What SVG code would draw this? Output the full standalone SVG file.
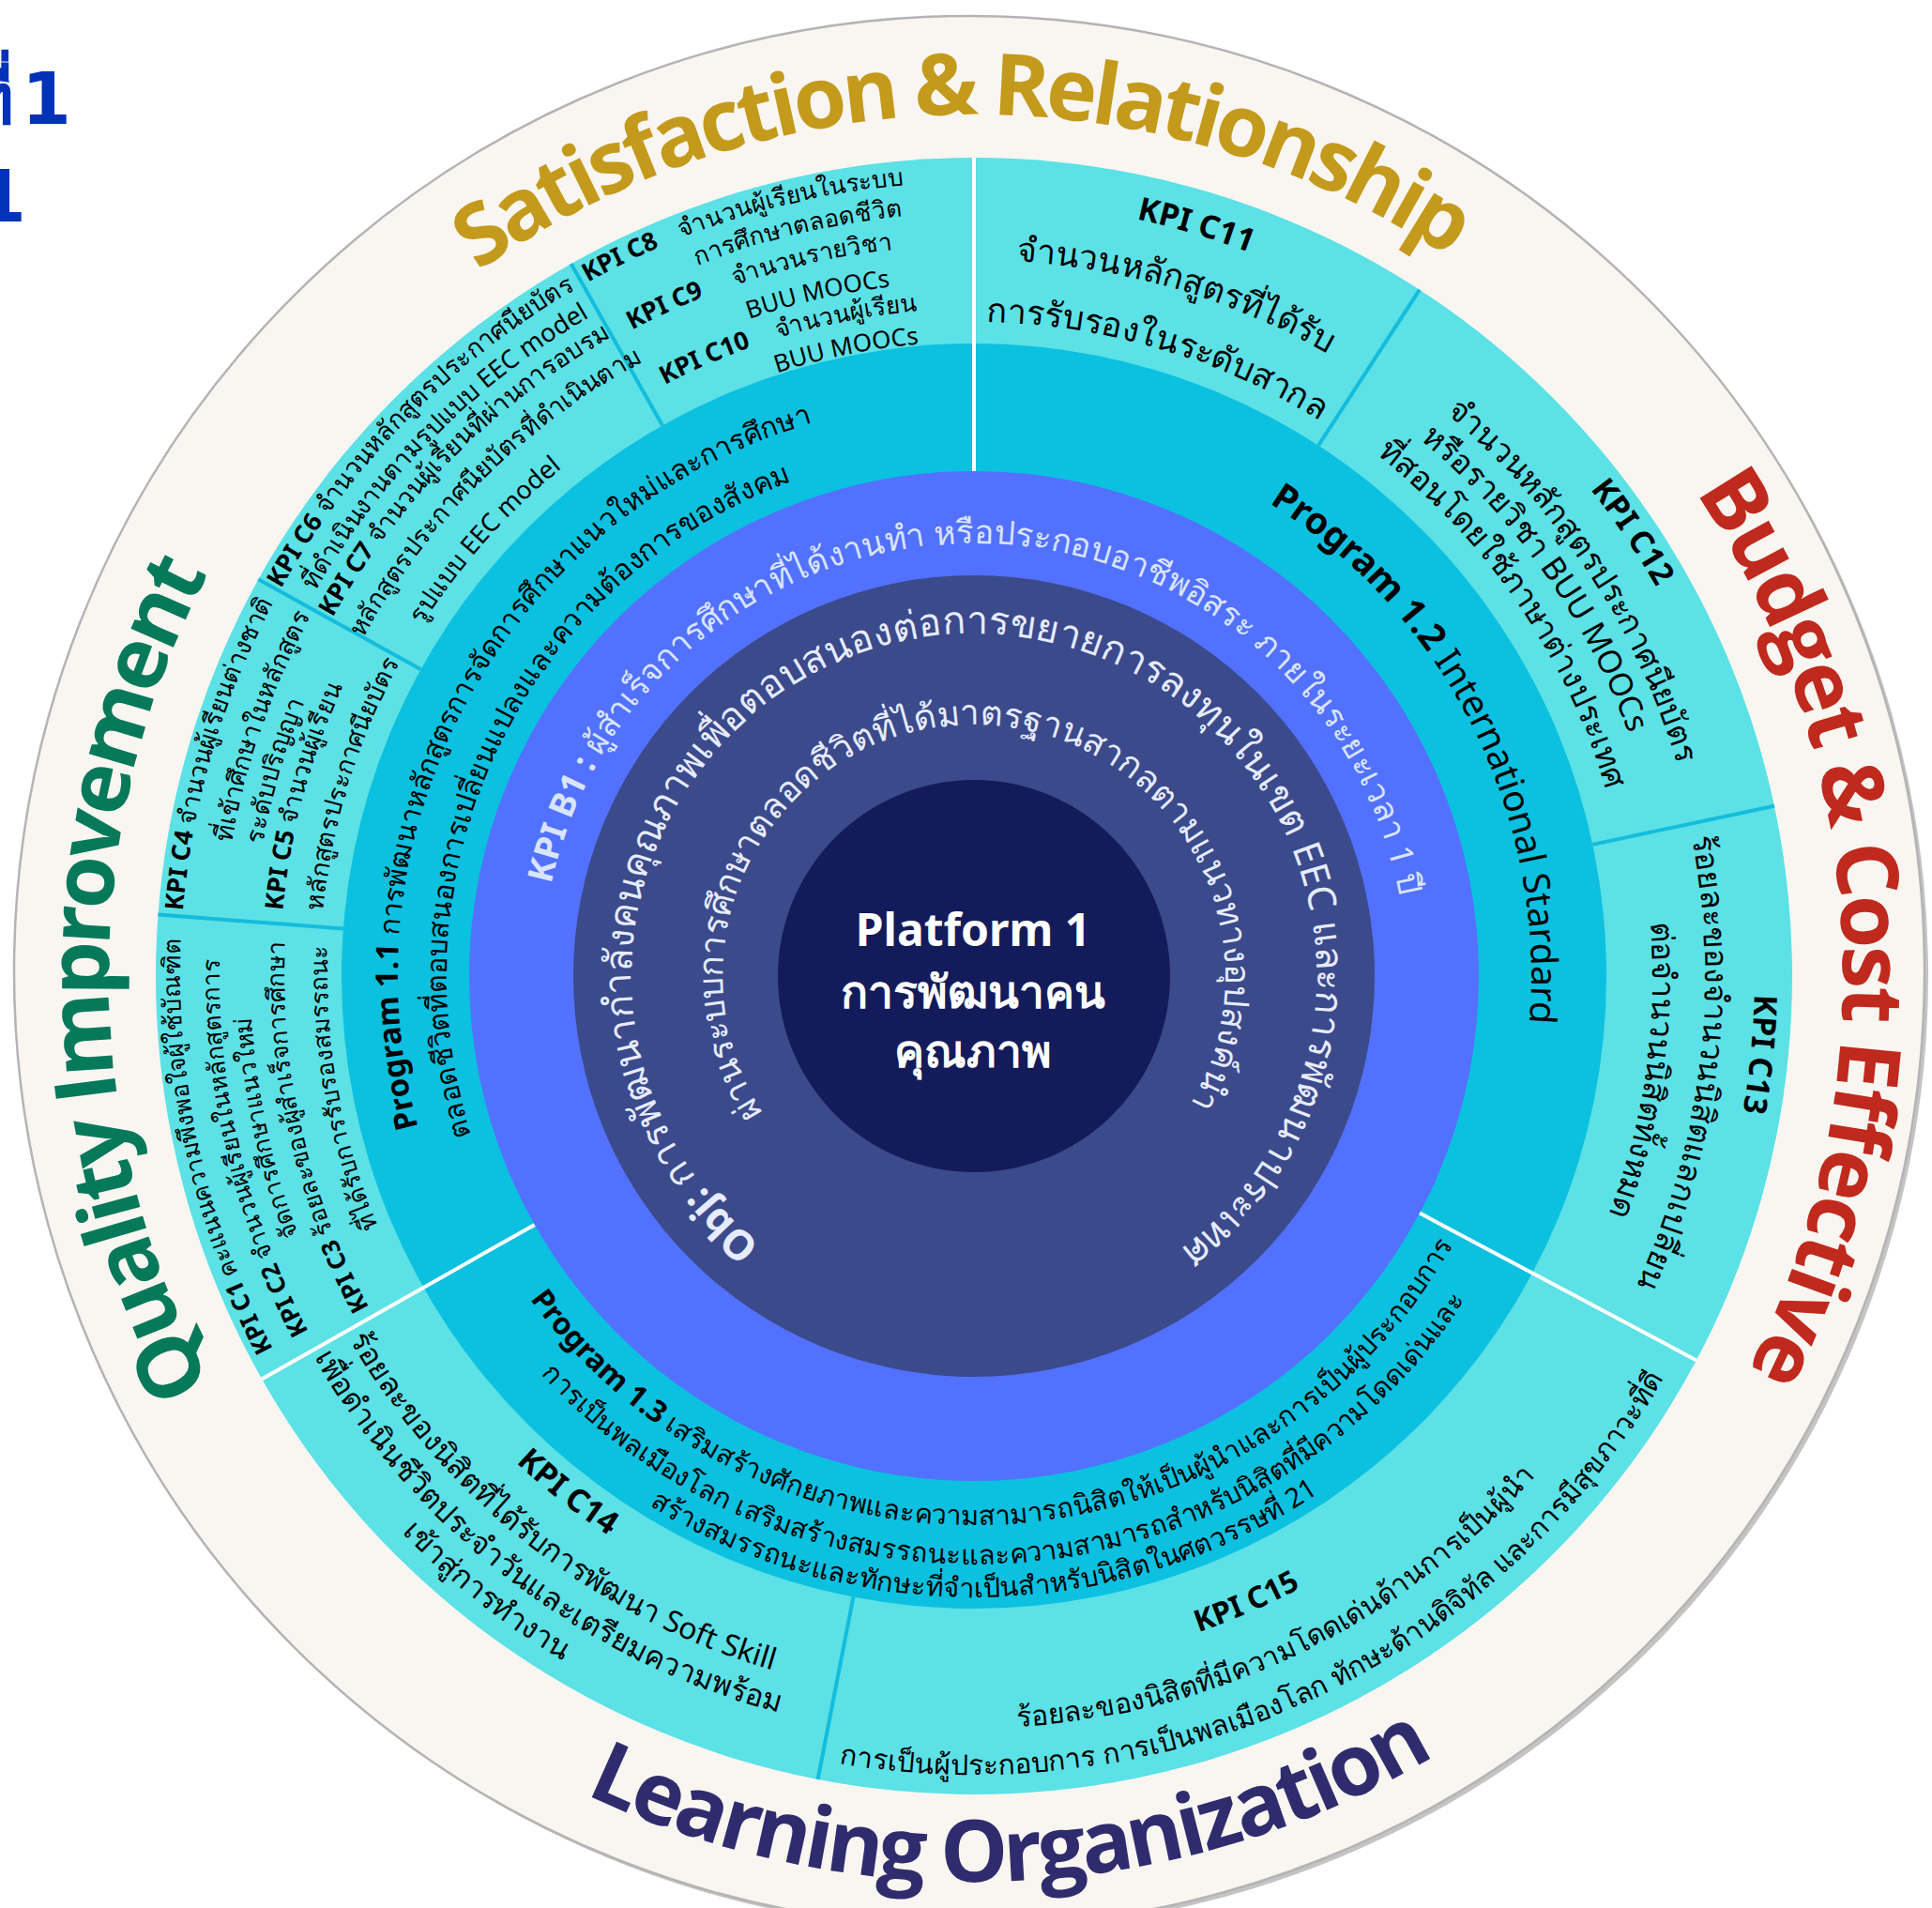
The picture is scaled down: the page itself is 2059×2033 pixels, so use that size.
<svg xmlns="http://www.w3.org/2000/svg" width="2059" height="2033" viewBox="0 0 2059 2033">
<style>
.t{font-family:"Noto Sans","Open Sans",sans-serif;}
.ol{font-family:"Open Sans","Noto Sans",sans-serif;font-weight:700;font-size:91px;}
.b{font-weight:700;}
.k{font-size:26px;fill:#000;}
.k7{font-size:27px;fill:#000;}
.k2{font-size:34px;fill:#000;}
.m{text-anchor:middle;}
.wl{stroke:#ffffff;stroke-width:4;}
.cl{stroke:#14bcdc;stroke-width:4;}
.ttl{font-family:"DejaVu Sans",sans-serif;font-weight:700;font-size:76px;fill:#0232b8;text-anchor:end;}
</style>
<defs>
<path id="cw268" d="M0 268A268 268 0 1 1 0 -268A268 268 0 1 1 0 268"/>
<path id="cw365" d="M0 365A365 365 0 1 1 0 -365A365 365 0 1 1 0 365"/>
<path id="cw461" d="M0 461A461 461 0 1 1 0 -461A461 461 0 1 1 0 461"/>
<path id="cw562" d="M0 562A562 562 0 1 1 0 -562A562 562 0 1 1 0 562"/>
<path id="cw594" d="M0 594A594 594 0 1 1 0 -594A594 594 0 1 1 0 594"/>
<path id="cw614" d="M0 614A614 614 0 1 1 0 -614A614 614 0 1 1 0 614"/>
<path id="cw676" d="M0 676A676 676 0 1 1 0 -676A676 676 0 1 1 0 676"/>
<path id="cw689" d="M0 689A689 689 0 1 1 0 -689A689 689 0 1 1 0 689"/>
<path id="cw697" d="M0 697A697 697 0 1 1 0 -697A697 697 0 1 1 0 697"/>
<path id="cw702" d="M0 702A702 702 0 1 1 0 -702A702 702 0 1 1 0 702"/>
<path id="cw711" d="M0 711A711 711 0 1 1 0 -711A711 711 0 1 1 0 711"/>
<path id="cw723" d="M0 723A723 723 0 1 1 0 -723A723 723 0 1 1 0 723"/>
<path id="cw735" d="M0 735A735 735 0 1 1 0 -735A735 735 0 1 1 0 735"/>
<path id="cw740" d="M0 740A740 740 0 1 1 0 -740A740 740 0 1 1 0 740"/>
<path id="cw744" d="M0 744A744 744 0 1 1 0 -744A744 744 0 1 1 0 744"/>
<path id="cw763" d="M0 763A763 763 0 1 1 0 -763A763 763 0 1 1 0 763"/>
<path id="cw771" d="M0 771A771 771 0 1 1 0 -771A771 771 0 1 1 0 771"/>
<path id="cw779" d="M0 779A779 779 0 1 1 0 -779A779 779 0 1 1 0 779"/>
<path id="cw783" d="M0 783A783 783 0 1 1 0 -783A783 783 0 1 1 0 783"/>
<path id="cw804" d="M0 804A804 804 0 1 1 0 -804A804 804 0 1 1 0 804"/>
<path id="cw813" d="M0 813A813 813 0 1 1 0 -813A813 813 0 1 1 0 813"/>
<path id="cw825" d="M0 825A825 825 0 1 1 0 -825A825 825 0 1 1 0 825"/>
<path id="cw832" d="M0 832A832 832 0 1 1 0 -832A832 832 0 1 1 0 832"/>
<path id="cw837" d="M0 837A837 837 0 1 1 0 -837A837 837 0 1 1 0 837"/>
<path id="cw846" d="M0 846A846 846 0 1 1 0 -846A846 846 0 1 1 0 846"/>
<path id="cw918" d="M0 918A918 918 0 1 1 0 -918A918 918 0 1 1 0 918"/>
<path id="cw922" d="M0 922A922 922 0 1 1 0 -922A922 922 0 1 1 0 922"/>
<path id="cw926" d="M0 926A926 926 0 1 1 0 -926A926 926 0 1 1 0 926"/>
<path id="cc585" d="M0 -585A585 585 0 1 0 0 585A585 585 0 1 0 0 -585"/>
<path id="cc627" d="M0 -627A627 627 0 1 0 0 627A627 627 0 1 0 0 -627"/>
<path id="cc662" d="M0 -662A662 662 0 1 0 0 662A662 662 0 1 0 0 -662"/>
<path id="cc712" d="M0 -712A712 712 0 1 0 0 712A712 712 0 1 0 0 -712"/>
<path id="cc739" d="M0 -739A739 739 0 1 0 0 739A739 739 0 1 0 0 -739"/>
<path id="cc770" d="M0 -770A770 770 0 1 0 0 770A770 770 0 1 0 0 -770"/>
<path id="cc801" d="M0 -801A801 801 0 1 0 0 801A801 801 0 1 0 0 -801"/>
<path id="cc812" d="M0 -812A812 812 0 1 0 0 812A812 812 0 1 0 0 -812"/>
<path id="cc851" d="M0 -851A851 851 0 1 0 0 851A851 851 0 1 0 0 -851"/>
<path id="cc965" d="M0 -965A965 965 0 1 0 0 965A965 965 0 1 0 0 -965"/>
</defs>
<rect width="2059" height="2033" fill="#ffffff"/>
<g id="title">
<text class="ttl" x="15" y="132">ที่</text>
<text class="ttl" x="76" y="132">1</text>
<text class="ttl" x="28" y="236">1</text>
</g>
<circle cx="1037" cy="1039" r="1018" fill="#c4c4c4"/>
<circle id="outer-band" cx="1033" cy="1035" r="1018" fill="#f9f6f1" stroke="#b4b4b4" stroke-width="2.5"/>
<g transform="translate(1038 1040)">
<g id="rings">
<circle r="872" fill="#5ce1e6"/>
<circle r="674" fill="#0cc0df"/>
<circle r="538" fill="#5271ff"/>
<circle r="427" fill="#3b4a8b"/>
<circle id="platform" r="209" fill="#141b5a"/>
</g>
<g id="connectors">
<line class="wl" x1="0" y1="-538" x2="0" y2="-872"/>
<line class="wl" x1="475.0" y1="252.6" x2="769.9" y2="409.4"/>
<line class="wl" x1="-468.3" y1="264.9" x2="-759.0" y2="429.4"/>
<line class="cl" x1="367.1" y1="-565.3" x2="474.9" y2="-731.3"/>
<line class="cl" x1="659.3" y1="-140.1" x2="853.0" y2="-181.3"/>
<line class="cl" x1="-128.6" y1="661.6" x2="-166.4" y2="856.0"/>
<line class="cl" x1="-672.1" y1="-50.5" x2="-869.5" y2="-65.4"/>
<line class="cl" x1="-589.5" y1="-326.8" x2="-762.7" y2="-422.8"/>
<line class="cl" x1="-331.9" y1="-586.6" x2="-429.4" y2="-759.0"/>
</g>
<g id="outer-labels" class="ol">
<text class="m" fill="#c49a1c" transform="rotate(-0.8)"><textPath href="#cw918" startOffset="50%" textLength="1100" lengthAdjust="spacing">Satisfaction &amp; Relationship</textPath></text>
<text class="m" fill="#c0291d" transform="rotate(86.6)"><textPath href="#cw926" startOffset="50%" textLength="985" lengthAdjust="spacing">Budget &amp; Cost Effective</textPath></text>
<text class="m" fill="#2f2c6e" transform="rotate(-2.6)"><textPath href="#cc965" startOffset="50%" textLength="945" lengthAdjust="spacing">Learning Organization</textPath></text>
<text class="m" fill="#06795b" transform="rotate(269.8)"><textPath href="#cw922" startOffset="50%" textLength="900" lengthAdjust="spacing">Quality Improvement</textPath></text>
</g>
<g id="node-platform" class="t" fill="#ffffff" font-weight="700" text-anchor="middle">
<text x="-1" y="-32" font-size="48">Platform 1</text>
<text x="-1" y="34" font-size="48">การพัฒนาคน</text>
<text x="-1" y="97" font-size="48">คุณภาพ</text>
</g>
<g id="node-obj" class="t" fill="#e6ebff">
<text class="m" font-size="41" transform="rotate(0.75)"><textPath href="#cw365" startOffset="50%"><tspan class="b" font-size="44">Obj:</tspan> การพัฒนากำลังคนคุณภาพเพื่อตอบสนองต่อการขยายการลงทุนในเขต EEC และการพัฒนาประเทศ</textPath></text>
<text class="m" font-size="37" transform="rotate(-1.2)"><textPath href="#cw268" startOffset="50%">ผ่านระบบการศึกษาตลอดชีวิตที่ได้มาตรฐานสากลตามแนวทางอุปสงค์นำ</textPath></text>
</g>
<g id="node-kpi-b1" class="t" fill="#d9e4ff">
<text class="m" font-size="35" transform="rotate(0.8)"><textPath href="#cw461" startOffset="50%"><tspan class="b" font-size="37">KPI B1 :</tspan> ผู้สำเร็จการศึกษาที่ได้งานทำ หรือประกอบอาชีพอิสระ ภายในระยะเวลา 1 ปี</textPath></text>
</g>
<g id="node-program-1-1" class="t" fill="#000">
<text font-size="30" transform="rotate(254.8)"><textPath href="#cw614" startOffset="50%"><tspan class="b" font-size="33">Program 1.1</tspan> การพัฒนาหลักสูตรการจัดการศึกษาแนวใหม่และการศึกษา</textPath></text>
<text font-size="30.5" transform="rotate(252.4)"><textPath href="#cw562" startOffset="50%">ตลอดชีวิตที่ตอบสนองการเปลี่ยนแปลงและความต้องการของสังคม</textPath></text>
</g>
<g id="node-program-1-2" class="t" fill="#000">
<text font-size="39" transform="rotate(32)"><textPath href="#cw594" startOffset="50%"><tspan class="b">Program 1.2</tspan> International Stardard</textPath></text>
</g>
<g id="node-program-1-3" class="t" font-size="29" fill="#000">
<text class="m" transform="rotate(-3.4)"><textPath href="#cc585" startOffset="50%"><tspan class="b" font-size="32">Program 1.3</tspan> เสริมสร้างศักยภาพและความสามารถนิสิตให้เป็นผู้นำและการเป็นผู้ประกอบการ</textPath></text>
<text class="m" transform="rotate(-4.6)"><textPath href="#cc627" startOffset="50%">การเป็นพลเมืองโลก เสริมสร้างสมรรถนะและความสามารถสำหรับนิสิตที่มีความโดดเด่นและ</textPath></text>
<text class="m" transform="rotate(-1.1)"><textPath href="#cc662" startOffset="50%">สร้างสมรรถนะและทักษะที่จำเป็นสำหรับนิสิตในศตวรรษที่ 21</textPath></text>
</g>
<g id="node-kpi-c8-c10" class="t" font-size="26" fill="#000">
<text class="b" font-size="27" transform="rotate(-29.1)"><textPath href="#cw846" startOffset="50%">KPI C8</textPath></text>
<text transform="rotate(-21.6)"><textPath href="#cw846" startOffset="50%">จำนวนผู้เรียนในระบบ</textPath></text>
<text transform="rotate(-21.3)"><textPath href="#cw813" startOffset="50%">การศึกษาตลอดชีวิต</textPath></text>
<text class="b" font-size="27" transform="rotate(-27.9)"><textPath href="#cw779" startOffset="50%">KPI C9</textPath></text>
<text transform="rotate(-19.1)"><textPath href="#cw779" startOffset="50%">จำนวนรายวิชา</textPath></text>
<text transform="rotate(-18.9)"><textPath href="#cw740" startOffset="50%">BUU MOOCs</textPath></text>
<text class="b" font-size="27" transform="rotate(-27.6)"><textPath href="#cw711" startOffset="50%">KPI C10</textPath></text>
<text transform="rotate(-17.1)"><textPath href="#cw711" startOffset="50%">จำนวนผู้เรียน</textPath></text>
<text transform="rotate(-18.1)"><textPath href="#cw676" startOffset="50%">BUU MOOCs</textPath></text>
</g>
<g id="node-kpi-c11" class="t m" fill="#000">
<text class="b" font-size="34" transform="rotate(16.5)"><textPath href="#cw825" startOffset="50%">KPI C11</textPath></text>
<text font-size="36" transform="rotate(16.5)"><textPath href="#cw763" startOffset="50%">จำนวนหลักสูตรที่ได้รับ</textPath></text>
<text font-size="36" transform="rotate(16.5)"><textPath href="#cw697" startOffset="50%">การรับรองในระดับสากล</textPath></text>
</g>
<g id="node-kpi-c12" class="t m k2">
<text class="b" transform="rotate(56)"><textPath href="#cw837" startOffset="50%">KPI C12</textPath></text>
<text transform="rotate(56.6)"><textPath href="#cw783" startOffset="50%">จำนวนหลักสูตรประกาศนียบัตร</textPath></text>
<text transform="rotate(54.7)"><textPath href="#cw744" startOffset="50%">หรือรายวิชา BUU MOOCs</textPath></text>
<text transform="rotate(55.65)"><textPath href="#cw702" startOffset="50%">ที่สอนโดยใช้ภาษาต่างประเทศ</textPath></text>
</g>
<g id="node-kpi-c13" class="t m k2">
<text class="b" transform="rotate(95.7)"><textPath href="#cw832" startOffset="50%">KPI C13</textPath></text>
<text transform="rotate(97)"><textPath href="#cw779" startOffset="50%">ร้อยละของจำนวนนิสิตแลกเปลี่ยน</textPath></text>
<text transform="rotate(98)"><textPath href="#cw723" startOffset="50%">ต่อจำนวนนิสิตทั้งหมด</textPath></text>
</g>
<g id="node-kpi-c14" class="t m" font-size="32" fill="#000">
<text class="b" font-size="34" transform="rotate(38.2)"><textPath href="#cc712" startOffset="50%">KPI C14</textPath></text>
<text transform="rotate(38)"><textPath href="#cc770" startOffset="50%">ร้อยละของนิสิตที่ได้รับการพัฒนา Soft Skill</textPath></text>
<text transform="rotate(37.4)"><textPath href="#cc812" startOffset="50%">เพื่อดำเนินชีวิตประจำวันและเตรียมความพร้อม</textPath></text>
<text transform="rotate(38.4)"><textPath href="#cc851" startOffset="50%">เข้าสู่การทำงาน</textPath></text>
</g>
<g id="node-kpi-c15" class="t m" font-size="30" fill="#000">
<text class="b" font-size="32" transform="rotate(-23.5)"><textPath href="#cc739" startOffset="50%">KPI C15</textPath></text>
<text transform="rotate(-25.8)"><textPath href="#cc801" startOffset="50%">ร้อยละของนิสิตที่มีความโดดเด่นด้านการเป็นผู้นำ</textPath></text>
<text transform="rotate(-25)"><textPath href="#cc851" startOffset="50%">การเป็นผู้ประกอบการ การเป็นพลเมืองโลก ทักษะด้านดิจิทัล และการมีสุขภาวะที่ดี</textPath></text>
</g>
<g id="node-kpi-c6-c7" class="t k7">
<text transform="rotate(-60.8)"><textPath href="#cw846" startOffset="50%"><tspan class="b">KPI C6</tspan> จำนวนหลักสูตรประกาศนียบัตร</textPath></text>
<text transform="rotate(-59.7)"><textPath href="#cw813" startOffset="50%">ที่ดำเนินงานตามรูปแบบ EEC model</textPath></text>
<text transform="rotate(-60.8)"><textPath href="#cw783" startOffset="50%"><tspan class="b">KPI C7</tspan> จำนวนผู้เรียนที่ผ่านการอบรม</textPath></text>
<text transform="rotate(-61.1)"><textPath href="#cw744" startOffset="50%">หลักสูตรประกาศนียบัตรที่ดำเนินตาม</textPath></text>
<text transform="rotate(-57.5)"><textPath href="#cw697" startOffset="50%">รูปแบบ EEC model</textPath></text>
</g>
<g id="node-kpi-c4-c5" class="t k7">
<text transform="rotate(274.7)"><textPath href="#cw846" startOffset="50%"><tspan class="b">KPI C4</tspan> จำนวนผู้เรียนต่างชาติ</textPath></text>
<text transform="rotate(280.2)"><textPath href="#cw804" startOffset="50%">ที่เข้าศึกษาในหลักสูตร</textPath></text>
<text transform="rotate(280.5)"><textPath href="#cw771" startOffset="50%">ระดับปริญญา</textPath></text>
<text transform="rotate(275.4)"><textPath href="#cw740" startOffset="50%"><tspan class="b">KPI C5</tspan> จำนวนผู้เรียน</textPath></text>
<text transform="rotate(275.7)"><textPath href="#cw697" startOffset="50%">หลักสูตรประกาศนียบัตร</textPath></text>
</g>
<g id="node-kpi-c1-c3" class="t k">
<text transform="rotate(242)"><textPath href="#cw846" startOffset="50%"><tspan class="b">KPI C1</tspan> คะแนนความพึงพอใจผู้ใช้บัณฑิต</textPath></text>
<text transform="rotate(241.9)"><textPath href="#cw804" startOffset="50%"><tspan class="b">KPI C2</tspan> จำนวนผู้เรียนในหลักสูตรการ</textPath></text>
<text transform="rotate(249)"><textPath href="#cw771" startOffset="50%">จัดการศึกษาแนวใหม่</textPath></text>
<text transform="rotate(241.3)"><textPath href="#cw735" startOffset="50%"><tspan class="b">KPI C3</tspan> ร้อยละของผู้สำเร็จการศึกษา</textPath></text>
<text transform="rotate(247.2)"><textPath href="#cw689" startOffset="50%">ที่ได้รับการรับรองสมรรถนะ</textPath></text>
</g>
</g>
</svg>
